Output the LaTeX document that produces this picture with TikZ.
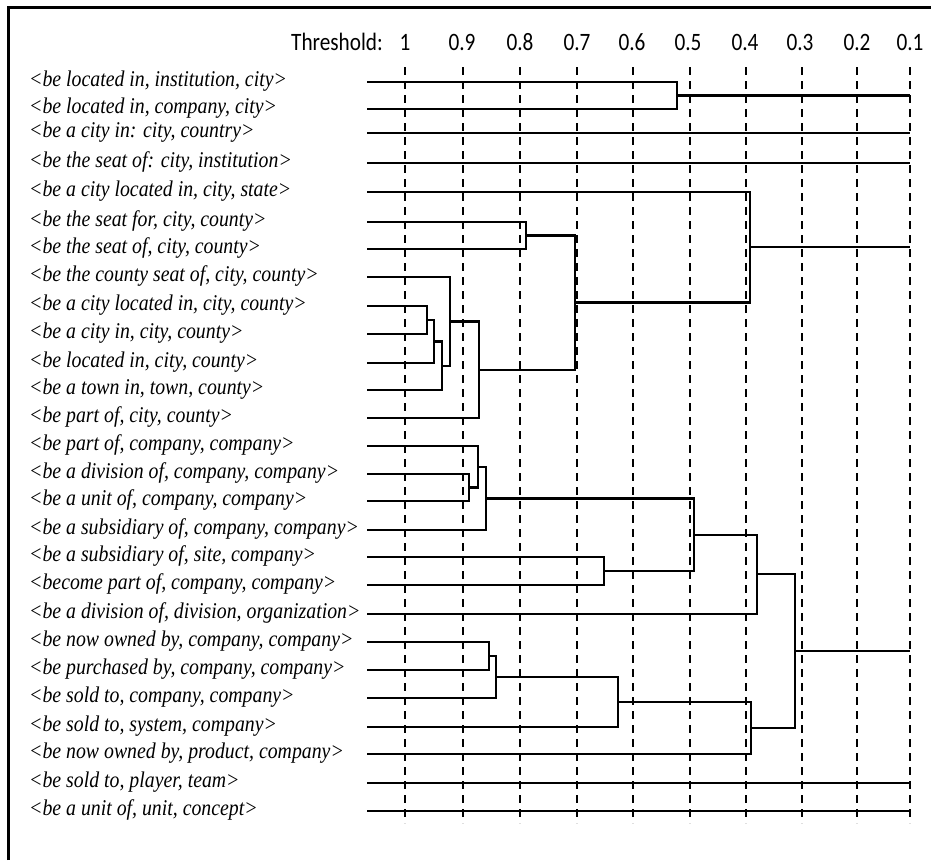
\documentclass[tikz,border=0pt]{standalone}
\usepackage{fontspec}
\setmainfont{Liberation Serif}
\newfontfamily\labfont[FakeStretch=0.88]{Liberation Serif}
\newfontfamily\hdrfont[FakeStretch=0.85]{Carlito}
\begin{document}
\begin{tikzpicture}[x=1pt,y=-1pt,
  lab/.style={anchor=base west, font=\labfont\itshape\fontsize{22.5}{24}\selectfont, inner sep=0pt},
  hdr/.style={font=\hdrfont\fontsize{25}{28}\selectfont, inner sep=0pt, anchor=base},
  thr/.style={dash pattern=on 8pt off 6pt, line width=1.2pt},
  den/.style={line width=2.3pt, line join=miter},
  frame/.style={line width=3pt}]
\useasboundingbox (0,0) rectangle (931,860);
% frame
\coordinate (fbl) at (8,860);
\coordinate (ftl) at (8,7.5);
\coordinate (ftr) at (931,7.5);
\draw[frame] (fbl) -- (ftl) -- (ftr);
% header
\node[hdr, anchor=base east] (thlab) at (383,50) {Threshold:};
\foreach \x/\xl/\v [count=\k] in {405/405/1,463/462/0.9,520/520/0.8,577/577/0.7,633/632/0.6,690/688/0.5,746/745/0.4,802/800/0.3,857/857/0.2,910/910/0.1}{
  \node[hdr] (h\k) at (\xl,50) {\v};
  \coordinate (t\k) at (\x,67);
  \coordinate (b\k) at (\x,823);
  \draw[thr] (t\k) -- (b\k);
}
% labels and leaves
\foreach \y/\t [count=\i] in {
 82/{<be located in, institution, city>},
 109/{<be located in, company, city>},
 133/{<be a city in: city, country>},
 163/{<be the seat of: city, institution>},
 192/{<be a city located in, city, state>},
 222/{<be the seat for, city, county>},
 249/{<be the seat of, city, county>},
 277/{<be the county seat of, city, county>},
 306/{<be a city located in, city, county>},
 334/{<be a city in, city, county>},
 363/{<be located in, city, county>},
 390/{<be a town in, town, county>},
 418/{<be part of, city, county>},
 446/{<be part of, company, company>},
 474/{<be a division of, company, company>},
 501/{<be a unit of, company, company>},
 530/{<be a subsidiary of, company, company>},
 557/{<be a subsidiary of, site, company>},
 585/{<become part of, company, company>},
 614/{<be a division of, division, organization>},
 642/{<be now owned by, company, company>},
 670/{<be purchased by, company, company>},
 698/{<be sold to, company, company>},
 727/{<be sold to, system, company>},
 754/{<be now owned by, product, company>},
 783/{<be sold to, player, team>},
 811/{<be a unit of, unit, concept>}}{
  \node[lab] (n\i) at (29,\y+4) {\t};
  \coordinate (L\i) at (367,\y);
}
% merge points
\coordinate (A) at (677,95.5);
\coordinate (B) at (526,235.5);
\coordinate (C) at (427,320);
\coordinate (D) at (434,341.5);
\coordinate (E) at (442,365.75);
\coordinate (F) at (450,321.4);
\coordinate (G) at (479,369.7);
\coordinate (H) at (575,302.6);
\coordinate (I) at (750,247.3);
\coordinate (J) at (469,487.5);
\coordinate (K) at (478,466.75);
\coordinate (M) at (486,498.4);
\coordinate (N) at (604,571);
\coordinate (O) at (694,534.7);
\coordinate (P) at (757,574.3);
\coordinate (Q) at (489,656);
\coordinate (R) at (496,677);
\coordinate (S) at (618,702);
\coordinate (T) at (751,728);
\coordinate (U) at (795,651);
% roots at 0.1
\coordinate (rA) at (910,95.5);
\coordinate (r3) at (910,133);
\coordinate (r4) at (910,163);
\coordinate (rI) at (910,247.3);
\coordinate (rU) at (910,651);
\coordinate (r26) at (910,783);
\coordinate (r27) at (910,811);
% dendrogram
\draw[den] (L1) -| (A) |- (L2);
\draw[den] (A) -- (rA);
\draw[den] (L3) -- (r3);
\draw[den] (L4) -- (r4);
\draw[den] (L6) -| (B) |- (L7);
\draw[den] (L9) -| (C) |- (L10);
\draw[den] (C) -| (D) |- (L11);
\draw[den] (D) -| (E) |- (L12);
\draw[den] (L8) -| (F) |- (E);
\draw[den] (F) -| (G) |- (L13);
\draw[den] (B) -| (H) |- (G);
\draw[den] (L5) -| (I) |- (H);
\draw[den] (I) -- (rI);
\draw[den] (L15) -| (J) |- (L16);
\draw[den] (L14) -| (K) |- (J);
\draw[den] (K) -| (M) |- (L17);
\draw[den] (L18) -| (N) |- (L19);
\draw[den] (M) -| (O) |- (N);
\draw[den] (O) -| (P) |- (L20);
\draw[den] (L21) -| (Q) |- (L22);
\draw[den] (Q) -| (R) |- (L23);
\draw[den] (R) -| (S) |- (L24);
\draw[den] (S) -| (T) |- (L25);
\draw[den] (P) -| (U) |- (T);
\draw[den] (U) -- (rU);
\draw[den] (L26) -- (r26);
\draw[den] (L27) -- (r27);
\end{tikzpicture}
\end{document}
